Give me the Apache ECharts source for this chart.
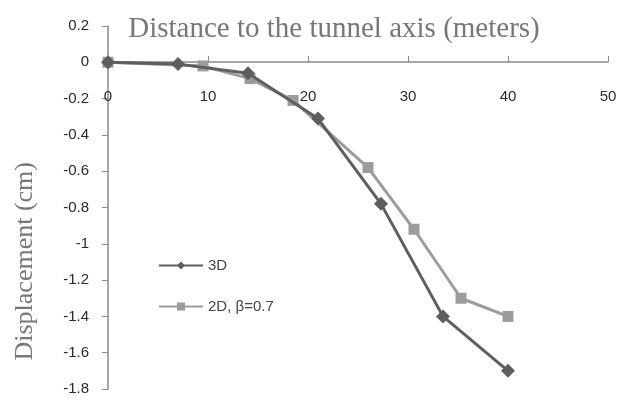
<!DOCTYPE html>
<html><head><meta charset="utf-8">
<script src="https://cdn.jsdelivr.net/npm/echarts@6/dist/echarts.min.js"></script>
<style>html,body{margin:0;padding:0;background:#fff}#c{width:619px;height:402px}</style>
</head><body><div id="c"></div>
<script>
var seriesNames = ['3D', '2D, β=0.7'];
var data3D = [[0, 0], [7, -0.01], [14, -0.06], [21, -0.31], [27.3, -0.78], [33.5, -1.4], [40, -1.7]];
var data2D = [[0, 0], [9.5, -0.02], [14.2, -0.09], [18.5, -0.21], [26, -0.58], [30.6, -0.92], [35.3, -1.3], [40, -1.4]];
var xTitle = 'Distance to the tunnel axis (meters)';
var yTitle = 'Displacement (cm)';

var chart = echarts.init(document.getElementById('c'));
var tickFont = {color: '#2a2a2a', fontSize: 15, fontFamily: 'Liberation Sans'};
chart.setOption({
  animation: false,
  title: {text: xTitle, left: 329, top: 10, textAlign: 'center',
    textStyle: {fontFamily: 'Liberation Serif', fontWeight: 'normal', fontSize: 29, color: '#777'}},
  graphic: [{type: 'text', left: 12, top: 162, rotation: Math.PI / 2,
    style: {text: yTitle, fontFamily: 'Liberation Serif', fontSize: 26, fill: '#777'}}],
  legend: {orient: 'vertical', left: 153, top: 253, itemGap: 26, itemWidth: 44, itemHeight: 10,
    textStyle: {fontFamily: 'Liberation Sans', fontSize: 15, color: '#444'},
    data: [seriesNames[0], seriesNames[1]]},
  grid: {left: 108, right: 11, top: 26, bottom: 13, outerBoundsMode: 'none', containLabel: false},
  xAxis: {type: 'value', min: 0, max: 50, interval: 10, offset: -327,
    axisLine: {onZero: false, lineStyle: {color: '#8a8a8a', width: 1.5}},
    axisTick: {inside: true, length: 6, lineStyle: {color: '#8a8a8a'}},
    axisLabel: Object.assign({margin: 27}, tickFont),
    splitLine: {show: false}},
  yAxis: {type: 'value', min: -1.8, max: 0.2, interval: 0.2,
    axisLine: {show: true, onZero: false, lineStyle: {color: '#8a8a8a', width: 1.5}},
    axisTick: {show: true, length: 6, lineStyle: {color: '#8a8a8a'}},
    axisLabel: Object.assign({margin: 19, formatter: function (v) { return String(Math.round(v * 10) / 10); }}, tickFont),
    splitLine: {show: false}},
  series: [
    {name: seriesNames[0], type: 'line', data: data3D, symbol: 'diamond', symbolSize: 14,
      lineStyle: {color: '#5e5e5e', width: 3}, itemStyle: {color: '#5e5e5e'}, z: 3},
    {name: seriesNames[1], type: 'line', data: data2D, symbol: 'rect', symbolSize: 11,
      lineStyle: {color: '#9c9c9c', width: 3}, itemStyle: {color: '#9c9c9c'}, z: 2}
  ]
});
</script></body></html>
